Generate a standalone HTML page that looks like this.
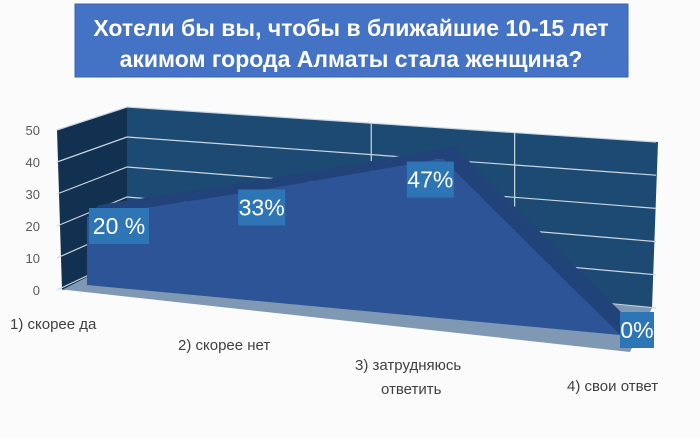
<!DOCTYPE html>
<html><head><meta charset="utf-8"><style>
body{margin:0;background:#fbfbfb;}
svg{display:block;font-family:"Liberation Sans","DejaVu Sans",sans-serif;}
</style></head><body>
<svg id="c" width="700" height="438" viewBox="0 0 700 438">
<rect x="75" y="4" width="553" height="73" fill="#4472c4" stroke="#3a63ad"/>
<text x="351" y="36" text-anchor="middle" fill="#fff" font-size="23" font-weight="bold">Хотели бы вы, чтобы в ближайшие 10-15 лет</text>
<text x="351" y="67" text-anchor="middle" fill="#fff" font-size="23" font-weight="bold">акимом города Алматы стала женщина?</text>
</svg>
<script>
const categories=["1)  скорее да","2) скорее нет","3) затрудняюсь|ответить","4) свои ответ"];
const values=[20,33,47,0];
const labels=["20 %","33%","47%","0%"];
const ticks=[0,10,20,30,40,50];
const NS="http://www.w3.org/2000/svg";
const svg=document.getElementById('c');
function mk(t,a){const e=document.createElementNS(NS,t);for(const k in a)e.setAttribute(k,a[k]);svg.appendChild(e);return e;}
const fx=i=>87+i*(620-87)/3;
const fBase=x=>285+(x-87)*(50/533);
const K=3.4;
const fy=(v,x)=>fBase(x)-v*K;
const bx=t=>127+t*(658-127);
const by=(v,t)=>{const top=107+t*35,bot=257+t*51;return bot-(bot-top)*v/50;};
const sy=v=>290-v*3.2;
let p=mk('polygon',{points:`57,${sy(50)} 127,${by(50,0)} 127,${by(0,0)} 62,${sy(0)}`,fill:'#12304f'});

p=mk('polygon',{points:`127,${by(50,0)} 658,${by(50,1)} 652,${by(0,1)} 127,${by(0,0)}`,fill:'#1d4a72'});

ticks.forEach(v=>{
 let l=mk('polyline',{points:`57,${sy(v)} 127,${by(v,0)} 656,${by(v,1)}`,fill:'none',stroke:'#c9d6e4','stroke-width':1.2});
 
 let t=mk('text',{x:40,y:sy(v)+5,'text-anchor':'end','font-size':13,fill:'#595959'});t.textContent=v;
 
});
[0.46,0.73].forEach(t=>{let l=mk('line',{x1:bx(t),y1:by(50,t),x2:bx(t),y2:by(0,t),stroke:'#c9d6e4','stroke-width':1.2});
 });
p=mk('polygon',{points:`62,${sy(0)} 127,${by(0,0)} 652,${by(0,1)} 630,352 ${fx(0)-20},${fBase(fx(0))+5}`,fill:'#7f98b3'});

const dx=12,dy=-12;
for(let i=0;i<values.length-1;i++){
 const x1=fx(i),x2=fx(i+1),y1=fy(values[i],x1),y2=fy(values[i+1],x2);
 let b=mk('polygon',{points:`${x1},${y1} ${x1+dx},${y1+dy} ${x2+dx},${y2+dy} ${x2},${y2}`,fill:'#22427a'});
 
}
let pts=values.map((v,i)=>`${fx(i)},${fy(v,fx(i))}`);
pts.push(`${fx(3)},${fBase(fx(3))}`,`${fx(0)},${fBase(fx(0))}`);
p=mk('polygon',{points:pts.join(' '),fill:'#2c5497'});

const offX=[32,-3,-12,17],offY=[9,18,21,-5];
values.forEach((v,i)=>{
 const x=fx(i)+offX[i],y=fy(v,fx(i))+offY[i];
 const w=labels[i].length*13+8;
 let r=mk('rect',{x:x-w/2,y:y-18,width:w,height:36,fill:'#2e75b6'});
 
 let t=mk('text',{x:x,y:y+8,'text-anchor':'middle','font-size':23,fill:'#fff'});t.textContent=labels[i];
 
});
const cpos=[[10,329],[178,350],[355,370],[567,391]];
categories.forEach((c,i)=>{
 c.split('|').forEach((ln,j)=>{
  let t=mk('text',{x:cpos[i][0]+(j?26:0),y:cpos[i][1]+j*24,'font-size':15,fill:'#404040'});t.textContent=ln;
  
 });
});
</script>
</body></html>
